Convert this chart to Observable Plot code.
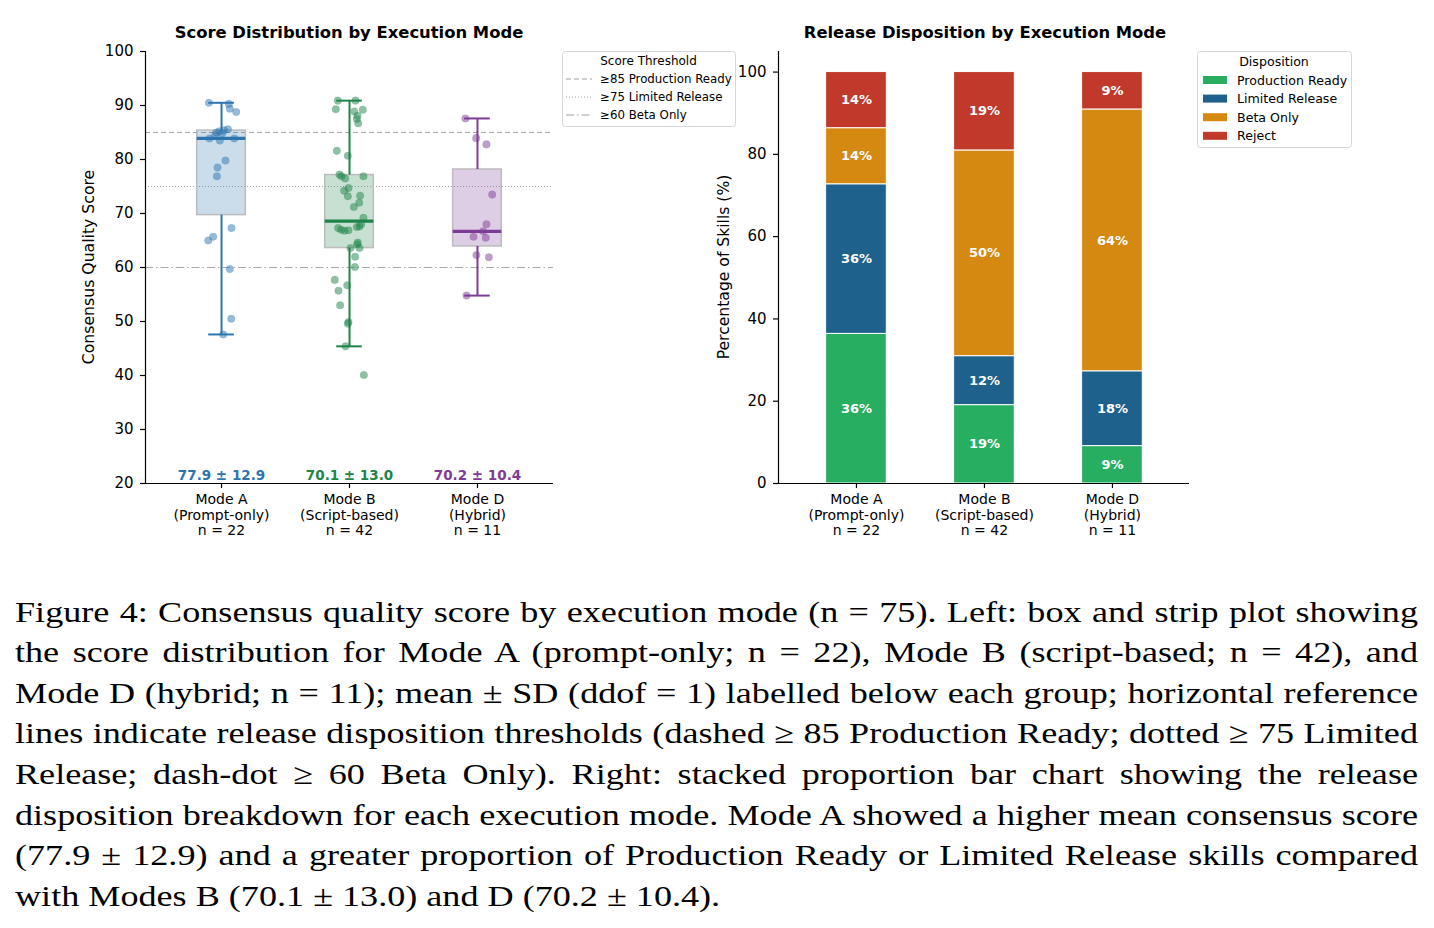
<!DOCTYPE html>
<html>
<head>
<meta charset="utf-8">
<script src="https://cdn.jsdelivr.net/npm/d3@7"></script>
<script src="https://cdn.jsdelivr.net/npm/@observablehq/plot@0.6"></script>
<style>
  body { margin: 0; background: #fff; }
  #fig { position: relative; width: 1434px; height: 928px; overflow: hidden; font-family: "DejaVu Sans", sans-serif; }
  #fig > svg, #fig > figure { position: absolute; margin: 0; }
  .cap { position: absolute; left: 15px; width: 1145.3px; font-family: "Liberation Serif", serif; font-size: 29.5px;
         line-height: 40.6px; height: 40.6px; white-space: nowrap; color: #000;
         transform: scaleX(1.225); transform-origin: 0 0; }
  .cap.just { text-align: justify; text-align-last: justify; white-space: normal; }
</style>
</head>
<body>
<div id="fig"></div>
<script>
// ---- Execution modes ----
const modes = ["Mode A", "Mode B", "Mode D"];
const modeSub = ["(Prompt-only)", "(Script-based)", "(Hybrid)"];
const modeN = [22, 42, 11];
const modeColors = ["#2e75b0", "#1e8449", "#7d3c98"];
const meanSdText = ["77.9 ± 12.9", "70.1 ± 13.0", "70.2 ± 10.4"];

// ---- Consensus quality scores per skill, with strip-plot jitter offsets ----
const scoresA = [90.5, 90.3, 89.4, 88.8, 85.6, 85.4, 85.2, 85.0, 84.8, 84.5, 83.9, 83.5, 83.9, 79.8, 78.5, 76.9, 67.3, 65.7, 65.0, 59.7, 50.5, 47.6];
const jitterA = [-0.099, 0.057, 0.065, 0.115, 0.05, 0.02, -0.016, -0.04, 0.005, -0.05, -0.094, -0.013, 0.10, 0.031, -0.031, -0.036, 0.078, -0.065, -0.104, 0.065, 0.076, 0.013];
const scoresB = [90.9, 90.9, 89.3, 88.9, 89.2, 88.1, 87.5, 86.7, 81.6, 80.7, 77.2, 76.9, 76.5, 76.9, 74.7, 74.2, 73.3, 73.2, 72.0, 71.2, 69.2, 68.0, 67.6, 67.3, 67.0, 66.9, 66.8, 67.5, 64.6, 64.3, 63.6, 63.6, 62.0, 60.1, 57.7, 56.7, 55.7, 53.0, 49.9, 49.6, 45.4, 40.1];
const jitterB = [-0.091, 0.047, -0.107, 0.037, 0.104, 0.063, 0.057, 0.068, -0.099, -0.013, -0.078, -0.063, -0.034, 0.109, -0.008, -0.042, 0.083, -0.013, 0.076, 0.034, 0.109, 0.091, 0.078, -0.089, -0.065, -0.008, -0.039, 0.057, 0.065, 0.06, 0.078, 0.008, 0.044, 0.042, -0.115, -0.018, -0.086, -0.073, -0.008, -0.013, -0.031, 0.112];
const scoresD = [87.6, 83.95, 82.8, 73.5, 68.0, 66.7, 65.7, 65.5, 62.3, 61.9, 54.8];
const jitterD = [-0.094, -0.01, 0.07, 0.115, 0.07, 0.044, -0.031, 0.065, -0.008, 0.089, -0.086];

// ---- Score thresholds ----
const thresholds = [85, 75, 60];
const thresholdLabels = ["≥85 Production Ready", "≥75 Limited Release", "≥60 Beta Only"];
const thresholdDash = ["5,3", "1,2", "8,3,1.5,3"];

// ---- Release disposition counts per mode ----
const dispositions = ["Production Ready", "Limited Release", "Beta Only", "Reject"];
const dispColors = ["#27ae60", "#1f618d", "#d68910", "#c0392b"];
const countsA = [8, 8, 3, 3];
const countsB = [8, 5, 21, 8];
const countsD = [1, 2, 7, 1];

const yTicksScore = [20, 30, 40, 50, 60, 70, 80, 90, 100];
const yTicksPct = [0, 20, 40, 60, 80, 100];

// ---- Derived tables ----
const scoreSets = [scoresA, scoresB, scoresD];
const jitterSets = [jitterA, jitterB, jitterD];
const points = scoreSets.flatMap((s, i) => s.map((v, k) => ({i, score: v, jit: jitterSets[i][k]})));
const stats = scoreSets.map((s, i) => {
  const v = s.slice().sort(d3.ascending);
  const q1 = d3.quantile(v, 0.25), q2 = d3.quantile(v, 0.5), q3 = d3.quantile(v, 0.75);
  const iqr = q3 - q1;
  const lo = d3.min(v.filter(d => d >= q1 - 1.5 * iqr));
  const hi = d3.max(v.filter(d => d <= q3 + 1.5 * iqr));
  return {i, q1, q2, q3, lo, hi, label: meanSdText[i]};
});
const tickText = modes.map((m, i) => `${m}\n${modeSub[i]}\nn = ${modeN[i]}`);

const countSets = [countsA, countsB, countsD];
const segments = countSets.flatMap((c, i) => {
  const total = d3.sum(c);
  const cum = d3.cumsum(c);
  return c.map((n, k) => ({
    i, k, disp: dispositions[k],
    y1: (cum[k] - n) / total * 100,
    y2: cum[k] / total * 100,
    pct: n / total * 100
  }));
});

const fig = document.getElementById("fig");
const baseStyle = {background: "transparent", fontFamily: "DejaVu Sans, sans-serif", fontSize: "14px", color: "#000", overflow: "visible"};
const HW = 0.19, CAP = 0.1, BW = 0.237;

// ---- Left: box + strip plot ----
const left = Plot.plot({
  width: 560, height: 545,
  marginLeft: 145, marginRight: 7, marginTop: 51, marginBottom: 62,
  style: baseStyle,
  x: {type: "linear", domain: [-0.594, 2.594], axis: null},
  y: {domain: [20, 100], axis: null},
  color: {type: "ordinal", domain: [0, 1, 2], range: modeColors},
  marks: [
    ...thresholds.map((t, j) => Plot.ruleY([t], {stroke: "#a8a8a8", strokeWidth: 1, strokeDasharray: thresholdDash[j]})),
    Plot.rect(stats, {x1: d => d.i - HW, x2: d => d.i + HW, y1: "q1", y2: "q3",
      fill: "i", fillOpacity: 0.25, stroke: "#bcbcbc", strokeWidth: 1.5}),
    Plot.ruleX(stats, {x: "i", y1: "q3", y2: "hi", stroke: "i", strokeWidth: 2}),
    Plot.ruleX(stats, {x: "i", y1: "lo", y2: "q1", stroke: "i", strokeWidth: 2}),
    Plot.ruleY(stats, {y: "hi", x1: d => d.i - CAP, x2: d => d.i + CAP, stroke: "i", strokeWidth: 2}),
    Plot.ruleY(stats, {y: "lo", x1: d => d.i - CAP, x2: d => d.i + CAP, stroke: "i", strokeWidth: 2}),
    Plot.ruleY(stats, {y: "q2", x1: d => d.i - HW, x2: d => d.i + HW, stroke: "i", strokeWidth: 3.2}),
    Plot.dot(points, {x: d => d.i + d.jit, y: "score", r: 3.8, fill: "i", fillOpacity: 0.5, stroke: "i", strokeOpacity: 0.2, strokeWidth: 0.6}),
    Plot.text(stats, {x: "i", y: () => 20, dy: -8, text: "label", fill: "i", fontWeight: "bold", fontSize: 13.5}),
    Plot.axisY({ticks: yTicksScore, tickSize: 5, tickPadding: 7, fontSize: 15, label: null, strokeWidth: 1.2}),
    Plot.axisX({ticks: [0, 1, 2], tickSize: 5, tickFormat: () => "", label: null, strokeWidth: 1.2}),
    Plot.text(tickText, {x: (d, j) => j, y: () => 20, text: d => d, lineAnchor: "top", dy: 9.5, lineHeight: 1.12, fontSize: 14}),
    Plot.ruleX([-0.594], {y1: 20, y2: 100, stroke: "#000", strokeWidth: 1.2}),
    Plot.ruleY([20], {stroke: "#000", strokeWidth: 1.2})
  ]
});
left.style.left = "0px"; left.style.top = "0px";
fig.appendChild(left);

// ---- Right: stacked proportion bars ----
const right = Plot.plot({
  width: 560, height: 545,
  marginLeft: 138, marginRight: 11, marginTop: 51, marginBottom: 62,
  style: baseStyle,
  x: {type: "linear", domain: [-0.609, 2.602], axis: null},
  y: {domain: [0, 105], axis: null},
  color: {domain: dispositions, range: dispColors},
  marks: [
    Plot.rect(segments, {x1: d => d.i - BW, x2: d => d.i + BW, y1: "y1", y2: "y2", fill: "disp", stroke: "#fff", strokeWidth: 1}),
    Plot.text(segments, {x: "i", y: d => (d.y1 + d.y2) / 2, text: d => `${Math.round(d.pct)}%`, fill: "#fff", fontWeight: "bold", fontSize: 13}),
    Plot.axisY({ticks: yTicksPct, tickSize: 5, tickPadding: 7, fontSize: 15, label: null, strokeWidth: 1.2}),
    Plot.axisX({ticks: [0, 1, 2], tickSize: 5, tickFormat: () => "", label: null, strokeWidth: 1.2}),
    Plot.text(tickText, {x: (d, j) => j, y: () => 0, text: d => d, lineAnchor: "top", dy: 9.5, lineHeight: 1.12, fontSize: 14}),
    Plot.ruleX([-0.609], {y1: 0, y2: 105, stroke: "#000", strokeWidth: 1.2}),
    Plot.ruleY([0], {stroke: "#000", strokeWidth: 1.2})
  ]
});
right.style.left = "640px"; right.style.top = "0px";
fig.appendChild(right);

// ---- Titles, axis labels and legends (overlay) ----
const overlay = d3.select(fig).append("svg")
  .attr("width", 1434).attr("height", 580)
  .style("left", "0px").style("top", "0px")
  .style("font-family", "DejaVu Sans, sans-serif");

overlay.append("text").attr("x", 349).attr("y", 32).attr("text-anchor", "middle").attr("dominant-baseline", "central")
  .attr("font-weight", "bold").attr("font-size", 16.4).text("Score Distribution by Execution Mode");
overlay.append("text").attr("x", 985).attr("y", 32).attr("text-anchor", "middle").attr("dominant-baseline", "central")
  .attr("font-weight", "bold").attr("font-size", 16.4).text("Release Disposition by Execution Mode");

overlay.append("text").attr("transform", "translate(88,267) rotate(-90)").attr("text-anchor", "middle")
  .attr("dominant-baseline", "central").attr("font-size", 15.7).text("Consensus Quality Score");
overlay.append("text").attr("transform", "translate(724,267) rotate(-90)").attr("text-anchor", "middle")
  .attr("dominant-baseline", "central").attr("font-size", 15.6).text("Percentage of Skills (%)");

// threshold legend
const lg1 = overlay.append("g").attr("transform", "translate(562,51)");
lg1.append("rect").attr("x", 0.5).attr("y", 0.5).attr("width", 173).attr("height", 75).attr("rx", 3)
  .attr("fill", "#fff").attr("stroke", "#d6d6d6");
lg1.append("text").attr("x", 86.5).attr("y", 10).attr("text-anchor", "middle").attr("dominant-baseline", "central")
  .attr("font-size", 12).text("Score Threshold");
thresholdLabels.forEach((t, j) => {
  const y = 28 + j * 18;
  lg1.append("line").attr("x1", 4).attr("x2", 30).attr("y1", y).attr("y2", y)
    .attr("stroke", "#a0a0a0").attr("stroke-width", 1).attr("stroke-dasharray", thresholdDash[j]);
  lg1.append("text").attr("x", 38).attr("y", y).attr("dominant-baseline", "central").attr("font-size", 11.8).text(t);
});

// disposition legend
const lg2 = overlay.append("g").attr("transform", "translate(1197,51)");
lg2.append("rect").attr("x", 0.5).attr("y", 0.5).attr("width", 154).attr("height", 96).attr("rx", 3)
  .attr("fill", "#fff").attr("stroke", "#d6d6d6");
lg2.append("text").attr("x", 77).attr("y", 10).attr("text-anchor", "middle").attr("dominant-baseline", "central")
  .attr("font-size", 12.6).text("Disposition");
dispositions.forEach((t, j) => {
  const y = 29 + j * 18.6;
  lg2.append("rect").attr("x", 6).attr("y", y - 4).attr("width", 24).attr("height", 8).attr("fill", dispColors[j]);
  lg2.append("text").attr("x", 40).attr("y", y).attr("dominant-baseline", "central").attr("font-size", 12.6).text(t);
});

// ---- Caption ----
const captionLines = [
  "Figure 4: Consensus quality score by execution mode (n = 75). Left: box and strip plot showing",
  "the score distribution for Mode A (prompt-only; n = 22), Mode B (script-based; n = 42), and",
  "Mode D (hybrid; n = 11); mean ± SD (ddof = 1) labelled below each group; horizontal reference",
  "lines indicate release disposition thresholds (dashed ≥ 85 Production Ready; dotted ≥ 75 Limited",
  "Release; dash-dot ≥ 60 Beta Only). Right: stacked proportion bar chart showing the release",
  "disposition breakdown for each execution mode. Mode A showed a higher mean consensus score",
  "(77.9 ± 12.9) and a greater proportion of Production Ready or Limited Release skills compared",
  "with Modes B (70.1 ± 13.0) and D (70.2 ± 10.4)."
];
captionLines.forEach((line, j) => {
  const div = document.createElement("div");
  div.className = j < captionLines.length - 1 ? "cap just" : "cap";
  div.style.top = (591.5 + j * 40.6) + "px";
  div.textContent = line;
  fig.appendChild(div);
});
</script>
</body>
</html>
